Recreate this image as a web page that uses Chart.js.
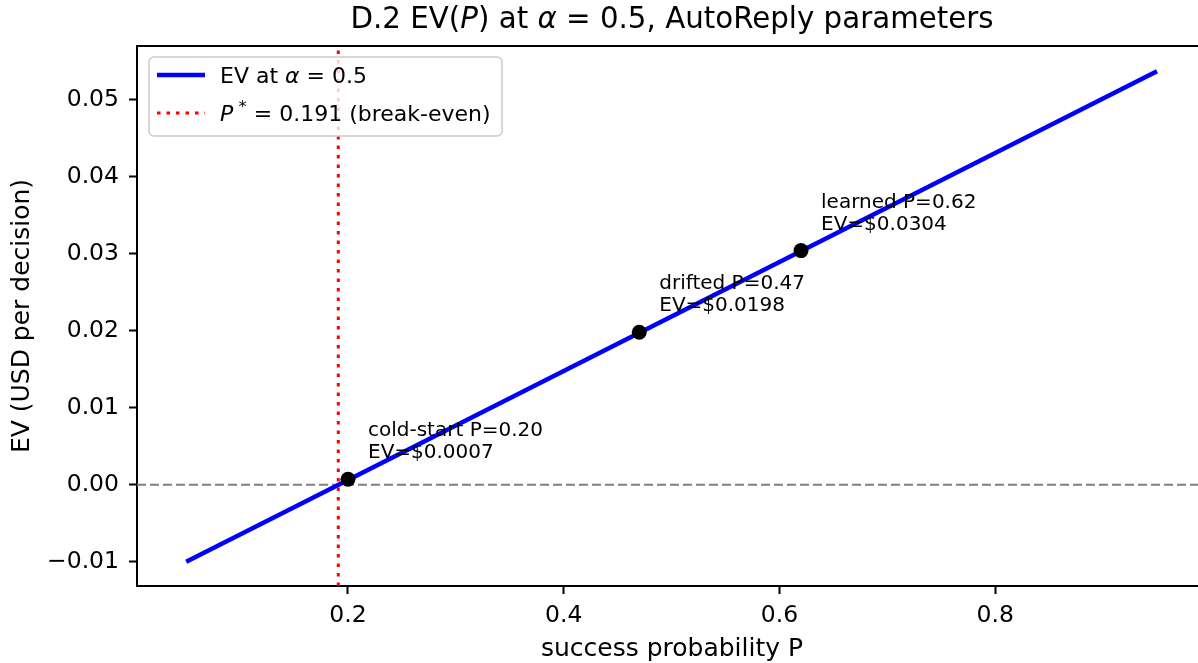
<!DOCTYPE html>
<html>
<head>
<meta charset="utf-8">
<script src="https://cdn.jsdelivr.net/npm/chart.js@4.4.1/dist/chart.umd.min.js"></script>
<style>
    html, body { margin: 0; padding: 0; background: #fff; }
    canvas { display: block; }
</style>
</head>
<body>
<canvas id="ev-canvas" width="1198" height="663"></canvas>
<script>
'use strict';

// EV line at its two ends
const lineP = [0.05, 0.95];
const lineEV = [-0.0100, 0.0537];

// marked operating points
const pointNames = ['cold-start', 'drifted', 'learned'];
const pointP = [0.20, 0.47, 0.62];
const pointEV = [0.0007, 0.0198, 0.0304];

const breakEvenP = 0.191;

const xTicks = [0.2, 0.4, 0.6, 0.8];
const yTicks = [-0.01, 0.00, 0.01, 0.02, 0.03, 0.04, 0.05];

const FONT = '"DejaVu Sans", "Liberation Sans", sans-serif';

// draw text made of pieces: [text, style] with style '', 'i' (italic) or 'sup'
function drawRich(ctx, parts, x, y, size, align) {
    let widths = [],
        total = 0;
    parts.forEach(p => {
        ctx.font = fontFor(p[1], size);
        let w = ctx.measureText(p[0]).width;
        widths.push(w);
        total += w;
    });
    let cx = align === 'center' ? x - total / 2 : x;
    ctx.textAlign = 'left';
    parts.forEach((p, i) => {
        ctx.font = fontFor(p[1], size);
        let dy = p[1] === 'sup' ? -size * 0.42 : 0;
        ctx.fillText(p[0], cx, y + dy);
        cx += widths[i];
    });
}

function fontFor(style, size) {
    if (style === 'i') return `italic ${size}px ${FONT}`;
    if (style === 'sup') return `${size * 0.75}px ${FONT}`;
    return `${size}px ${FONT}`;
}

const decor = {
    id: 'decor',
    beforeDatasetsDraw(chart) {
        let ctx = chart.ctx,
            a = chart.chartArea,
            xs = chart.scales.x,
            ys = chart.scales.y;
        ctx.save();
        ctx.beginPath();
        ctx.rect(a.left, a.top, a.right - a.left, a.bottom - a.top);
        ctx.clip();

        // zero line
        let y0 = ys.getPixelForValue(0);
        ctx.strokeStyle = '#808080';
        ctx.lineWidth = 2;
        ctx.setLineDash([9, 4]);
        ctx.beginPath();
        ctx.moveTo(a.left, y0);
        ctx.lineTo(a.right, y0);
        ctx.stroke();

        // break-even line
        let xb = xs.getPixelForValue(breakEvenP);
        ctx.strokeStyle = '#ff0000';
        ctx.lineWidth = 3;
        ctx.setLineDash([3.5, 6]);
        ctx.beginPath();
        ctx.moveTo(xb, a.bottom);
        ctx.lineTo(xb, a.top);
        ctx.stroke();
        ctx.restore();
    },
    afterDatasetsDraw(chart) {
        let ctx = chart.ctx,
            a = chart.chartArea,
            xs = chart.scales.x,
            ys = chart.scales.y;
        ctx.save();

        // point labels
        ctx.fillStyle = '#000';
        ctx.font = `20px ${FONT}`;
        ctx.textAlign = 'left';
        ctx.textBaseline = 'alphabetic';
        for (let i = 0; i < pointNames.length; i++) {
            let px = xs.getPixelForValue(pointP[i]) + 20,
                py = ys.getPixelForValue(pointEV[i]) - 21;
            ctx.fillText(`${pointNames[i]} P=${pointP[i].toFixed(2)}`, px, py - 22);
            ctx.fillText(`EV=$${pointEV[i].toFixed(4)}`, px, py);
        }

        // top spine (right one falls outside the picture)
        ctx.strokeStyle = '#000';
        ctx.lineWidth = 2;
        ctx.beginPath();
        ctx.moveTo(a.left - 1, a.top);
        ctx.lineTo(a.right, a.top);
        ctx.stroke();

        // legend
        let lx = 149, ly = 57, lw = 353, lh = 79;
        ctx.fillStyle = 'rgba(255,255,255,0.8)';
        ctx.strokeStyle = '#cccccc';
        ctx.lineWidth = 1.5;
        ctx.beginPath();
        ctx.roundRect(lx, ly, lw, lh, 5);
        ctx.fill();
        ctx.stroke();

        ctx.strokeStyle = '#0000ff';
        ctx.lineWidth = 4.5;
        ctx.beginPath();
        ctx.moveTo(157, 75);
        ctx.lineTo(205, 75);
        ctx.stroke();

        ctx.strokeStyle = '#ff0000';
        ctx.lineWidth = 3;
        ctx.setLineDash([3.5, 6]);
        ctx.beginPath();
        ctx.moveTo(157, 113);
        ctx.lineTo(205, 113);
        ctx.stroke();
        ctx.setLineDash([]);

        ctx.fillStyle = '#000';
        drawRich(ctx, [['EV at ', ''], ['α', 'i'], [' = 0.5', '']], 220, 83, 22, 'left');
        drawRich(ctx, [['P', 'i'], [' *', 'sup'], [' = 0.191 (break-even)', '']], 220, 121, 22, 'left');
        ctx.restore();
    },
    afterDraw(chart) {
        let ctx = chart.ctx,
            a = chart.chartArea;
        ctx.save();
        ctx.fillStyle = '#000';
        ctx.textBaseline = 'alphabetic';

        // title, centred on the full axes box
        drawRich(ctx, [['D.2 EV(', ''], ['P', 'i'], [') at ', ''], ['α', 'i'], [' = 0.5, AutoReply parameters', '']],
            672, 28, 29.3, 'center');

        // axis labels
        ctx.font = `25px ${FONT}`;
        ctx.textAlign = 'center';
        ctx.fillText('success probability P', 672, 656);

        ctx.translate(22, (a.top + a.bottom) / 2);
        ctx.rotate(-Math.PI / 2);
        ctx.textBaseline = 'middle';
        ctx.fillText('EV (USD per decision)', 0, 0);
        ctx.restore();
    }
};

const axisStyle = {
    grid: { display: true, drawOnChartArea: false, drawTicks: true, tickLength: 8, tickWidth: 2, tickColor: '#000' },
    border: { display: true, color: '#000', width: 2 }
};

new Chart(document.getElementById('ev-canvas'), {
    data: {
        datasets: [{
            type: 'scatter',
            data: pointP.map((p, i) => ({ x: p, y: pointEV[i] })),
            backgroundColor: '#000',
            borderWidth: 0,
            pointRadius: 7.5
        }, {
            type: 'line',
            data: lineP.map((p, i) => ({ x: p, y: lineEV[i] })),
            borderColor: '#0000ff',
            borderWidth: 4.5,
            pointRadius: 0,
            fill: false
        }]
    },
    options: {
        responsive: false,
        animation: false,
        events: [],
        layout: { autoPadding: false, padding: { left: 0, top: 46, right: 0, bottom: 0 } },
        plugins: {
            legend: { display: false },
            title: { display: false },
            tooltip: { enabled: false }
        },
        scales: {
            x: {
                type: 'linear',
                min: 0.0044,
                max: 0.988,
                ...axisStyle,
                afterBuildTicks: scale => { scale.ticks = xTicks.map(v => ({ value: v })); },
                afterFit: scale => {
                    scale.height = 77;
                    scale.paddingLeft = 0;
                    scale.paddingRight = 0;
                },
                ticks: {
                    color: '#000',
                    padding: 10,
                    autoSkip: false,
                    maxRotation: 0,
                    font: { family: FONT, size: 23.5, lineHeight: 1 },
                    callback: v => v.toFixed(1)
                }
            },
            y: {
                type: 'linear',
                min: -0.01316,
                max: 0.05697,
                ...axisStyle,
                afterBuildTicks: scale => { scale.ticks = yTicks.map(v => ({ value: v })); },
                afterFit: scale => {
                    scale.width = 137;
                    scale.paddingTop = 0;
                    scale.paddingBottom = 0;
                },
                ticks: {
                    color: '#000',
                    padding: 10,
                    font: { family: FONT, size: 23.5, lineHeight: 1 },
                    callback: v => (v < 0 ? '\u2212' + Math.abs(v).toFixed(2) : v.toFixed(2))
                }
            }
        }
    },
    plugins: [decor]
});
</script>
</body>
</html>
